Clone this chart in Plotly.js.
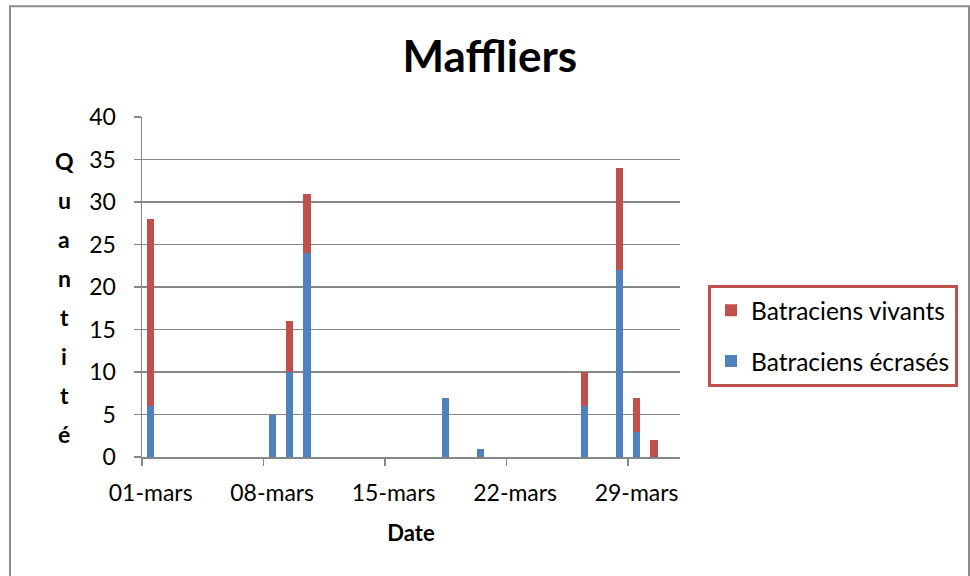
<!DOCTYPE html>
<html>
<head>
<meta charset="utf-8">
<script src="https://cdn.plot.ly/plotly-3.0.1.min.js"></script>
<style>html,body{margin:0;padding:0;background:#fff;}#chart{width:970px;height:576px;}</style>
</head>
<body>
<div id="chart"></div>
<script>
// ---- data ----
const dates = ['2013-03-01','2013-03-08','2013-03-09','2013-03-10','2013-03-18','2013-03-20','2013-03-26','2013-03-28','2013-03-29','2013-03-30'];
const ecrases = [6, 5, 10, 24, 7, 1, 6, 22, 3, 0];
const vivants = [22, 0, 6, 7, 0, 0, 4, 12, 4, 2];
const tickDates = ['2013-03-01','2013-03-08','2013-03-15','2013-03-22','2013-03-29'];
const tickLabels = ['01-mars','08-mars','15-mars','22-mars','29-mars'];
const seriesNames = ['Batraciens écrasés','Batraciens vivants'];
const chartTitle = 'Maffliers';
const xTitle = 'Date';
const yTitle = 'Quantité';

// ---- geometry helpers ----
const W = 970, H = 576;
const L = 142, R = 680, T = 117, B = 457.5;
const px2x = p => (p - L) / (R - L);
const px2y = p => (B - p) / (B - T);
const DAY = 86400000;
const noon = d => new Date(new Date(d + 'T00:00:00Z').getTime() + DAY / 2).toISOString();

const blue = '#4F81BD', red = '#C0504D', grey = '#868686';
const font = 'Lato, "Open Sans", sans-serif';

const traces = [
  {type:'bar', name:seriesNames[0], x:dates, y:ecrases, marker:{color:blue},
   xperiod:DAY, xperiodalignment:'middle', width:0.42*DAY, legendgroup:'a', legendrank:2, hoverinfo:'skip'},
  {type:'bar', name:seriesNames[1], x:dates, y:vivants, marker:{color:red},
   xperiod:DAY, xperiodalignment:'middle', width:0.42*DAY, legendgroup:'b', legendrank:1, hoverinfo:'skip'}
];

const annotations = [];
const letters = Array.from(yTitle);
letters.forEach((ch, i) => {
  annotations.push({text:ch, xref:'paper', yref:'paper', x:px2x(64), y:px2y(161 + 39*i),
    xanchor:'center', yanchor:'middle', showarrow:false,
    font:{family:font, size:23, color:'#000', weight:'bold'}});
});

const layout = {
  width:W, height:H,
  margin:{l:L, r:W-R, t:T, b:H-B, pad:0},
  paper_bgcolor:'#fff', plot_bgcolor:'#fff',
  barmode:'stack', bargap:0,
  title:{text:chartTitle, xref:'container', yref:'container', x:0.505, y:1-57/H, xanchor:'center', yanchor:'middle',
    font:{family:font, size:44, color:'#000', weight:'bold'}},
  xaxis:{type:'date', range:['2013-03-01','2013-04-01'], tickmode:'array',
    tickvals:tickDates.map(noon), ticktext:tickLabels, ticks:'', showgrid:false,
    showline:true, linecolor:grey, linewidth:1.5, zeroline:false,
    tickfont:{family:font, size:23, color:'#000'}, ticklabelstandoff:15,
    minor:{tickmode:'array', tickvals:tickDates, ticks:'outside', ticklen:7, tickcolor:grey, tickwidth:1.5, showgrid:false},
    title:{text:xTitle, font:{family:font, size:22, color:'#000', weight:'bold'}, standoff:20}},
  yaxis:{range:[0,40], dtick:5, tick0:0, showgrid:true, gridcolor:grey, gridwidth:1.5,
    showline:true, linecolor:grey, linewidth:1.5, zeroline:false,
    ticks:'outside', ticklen:7, tickcolor:grey, tickwidth:1.5,
    tickfont:{family:font, size:23, color:'#000'}, ticklabelstandoff:13},
  legend:{x:px2x(708), y:px2y(285), xanchor:'left', yanchor:'top', traceorder:'grouped',
    bordercolor:red, borderwidth:3, bgcolor:'#fff', tracegroupgap:16,
    font:{family:font, size:24.5, color:'#000'}},
  annotations:annotations,
  shapes:[{type:'rect', xref:'paper', yref:'paper', x0:px2x(10), x1:px2x(969), y0:px2y(600), y1:px2y(6),
    line:{color:'#8C8C8C', width:2}, fillcolor:'rgba(0,0,0,0)', layer:'below'}]
};

Plotly.newPlot('chart', traces, layout, {staticPlot:true, displayModeBar:false});
</script>
</body>
</html>
